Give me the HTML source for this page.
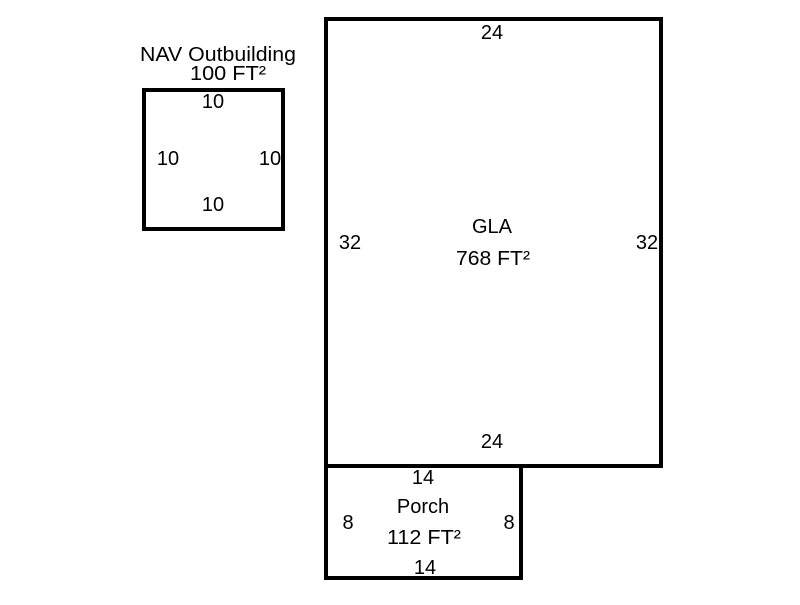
<!DOCTYPE html>
<html><head><style>html,body{margin:0;padding:0;background:#fff}</style></head>
<body>
<svg width="800" height="600" xmlns="http://www.w3.org/2000/svg" font-family="Liberation Sans, sans-serif" font-size="20" fill="#000">
<g fill="none" stroke="#000" stroke-width="4">
<rect x="326" y="19" width="335" height="447"/>
<rect x="326" y="466" width="195" height="112"/>
<rect x="144" y="90" width="139" height="139"/>
</g>
<g text-anchor="middle">
<text x="492" y="39">24</text>
<text x="492" y="448">24</text>
<text x="350" y="249">32</text>
<text x="647" y="249">32</text>
<text x="492" y="233">GLA</text>
<text x="493" y="265" textLength="74" lengthAdjust="spacingAndGlyphs">768 FT²</text>
<text x="423" y="484">14</text>
<text x="425" y="574">14</text>
<text x="348" y="529">8</text>
<text x="509" y="529">8</text>
<text x="423" y="513">Porch</text>
<text x="424" y="544" textLength="74" lengthAdjust="spacingAndGlyphs">112 FT²</text>
<text x="218" y="61" textLength="156" lengthAdjust="spacingAndGlyphs">NAV Outbuilding</text>
<text x="228" y="80" textLength="76" lengthAdjust="spacingAndGlyphs">100 FT²</text>
<text x="213" y="108">10</text>
<text x="213" y="211">10</text>
<text x="168" y="165">10</text>
<text x="270" y="165">10</text>
</g>
</svg>
</body></html>
